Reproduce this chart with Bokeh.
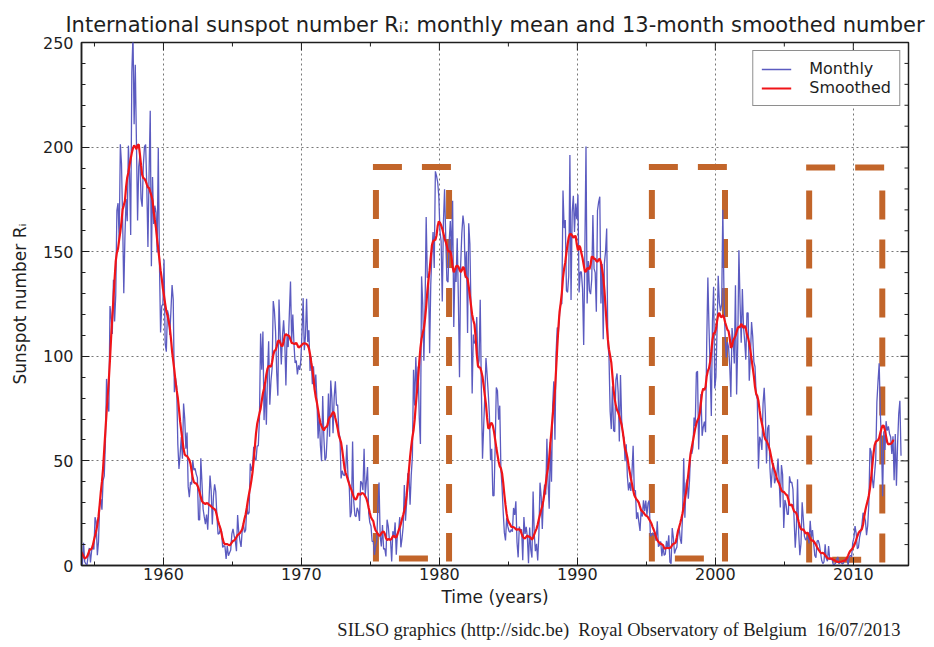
import numpy as np
from bokeh.plotting import figure
from bokeh.models import ColumnDataSource, Range1d, SingleIntervalTicker, Title
from bokeh.embed import file_html
from bokeh.resources import INLINE

# Monthly mean international sunspot number, January of each first year onward
monthly_1953_1959 = [
    26.5, 3.9, 10.0, 27.8, 12.5, 21.8, 8.6, 23.5, 19.3, 8.2, 1.6, 2.5,
    0.2, 0.5, 10.9, 1.8, 0.8, 0.2, 4.8, 8.4, 1.5, 7.0, 9.2, 7.6,
    23.1, 20.8, 4.9, 11.3, 28.9, 31.7, 26.7, 40.7, 42.7, 58.5, 89.2, 76.9,
    73.6, 124.0, 118.4, 110.7, 136.6, 116.6, 129.1, 169.6, 173.2, 155.3, 201.3, 192.1,
    165.0, 130.2, 157.4, 175.2, 164.6, 200.7, 187.2, 158.0, 235.8, 253.8, 210.9, 239.4,
    202.5, 164.9, 190.7, 196.0, 175.3, 171.5, 191.4, 200.2, 201.2, 181.5, 152.3, 187.6,
    217.4, 143.1, 185.7, 163.3, 172.0, 168.7, 149.6, 199.6, 145.2, 111.4, 124.0, 125.0,
]
monthly_1960s = [
    146.3, 106.0, 102.2, 122.0, 119.6, 110.2, 121.7, 134.1, 127.2, 82.8, 89.6, 85.6,
    57.9, 46.1, 53.0, 61.4, 51.0, 77.4, 70.2, 55.8, 63.6, 37.7, 32.6, 39.9,
    38.7, 50.3, 45.6, 46.4, 43.7, 42.0, 21.8, 21.8, 51.3, 39.5, 26.9, 23.2,
    19.8, 24.4, 17.1, 29.3, 43.0, 35.9, 19.6, 33.2, 38.8, 35.3, 23.4, 14.9,
    15.3, 17.7, 16.5, 8.6, 9.5, 9.1, 3.1, 9.3, 4.7, 6.1, 7.4, 15.1,
    17.5, 14.2, 11.7, 6.8, 24.1, 15.9, 11.9, 8.9, 16.8, 20.1, 15.8, 17.0,
    28.2, 24.4, 25.3, 48.7, 45.3, 47.7, 56.7, 51.2, 50.2, 57.2, 57.2, 70.4,
    110.9, 93.6, 111.8, 69.5, 86.5, 67.3, 91.5, 107.2, 76.8, 88.2, 94.3, 126.4,
    121.8, 111.9, 92.2, 81.2, 127.2, 110.3, 96.1, 109.3, 117.2, 107.7, 86.0, 109.8,
    104.4, 120.5, 135.8, 106.8, 120.0, 106.0, 96.8, 98.0, 91.3, 95.7, 93.5, 97.9,
]
monthly_1970s = [
    111.5, 127.8, 102.9, 109.5, 127.5, 106.8, 112.5, 93.0, 99.5, 86.6, 95.2, 83.5,
    91.3, 79.0, 60.7, 71.8, 57.5, 49.8, 81.0, 61.4, 50.2, 51.7, 63.2, 82.2,
    61.5, 88.4, 80.1, 63.2, 80.5, 88.0, 76.5, 76.8, 64.0, 61.3, 41.6, 45.3,
    43.4, 42.9, 46.0, 57.7, 42.4, 39.5, 23.1, 25.6, 59.3, 30.7, 23.9, 23.3,
    27.6, 26.0, 21.3, 40.3, 39.5, 36.0, 55.8, 33.6, 40.2, 47.1, 25.0, 20.5,
    18.9, 11.5, 11.5, 5.1, 9.0, 11.4, 28.2, 39.7, 13.9, 9.1, 19.4, 7.8,
    8.1, 4.3, 21.9, 18.8, 12.4, 12.2, 1.9, 16.4, 13.5, 20.6, 5.2, 15.3,
    16.4, 23.1, 8.7, 12.9, 18.6, 38.5, 21.4, 30.1, 44.0, 43.8, 29.1, 43.2,
    51.9, 93.6, 76.5, 99.7, 82.7, 95.1, 70.4, 58.1, 138.2, 125.1, 97.9, 122.7,
    166.6, 137.5, 138.0, 101.5, 134.4, 149.5, 159.4, 142.2, 188.4, 186.2, 183.3, 176.3,
]
monthly_1980s = [
    159.6, 155.0, 126.2, 164.1, 179.9, 157.3, 136.3, 135.4, 155.0, 164.7, 147.9, 174.4,
    114.0, 141.3, 135.5, 156.4, 127.5, 90.0, 143.8, 158.7, 167.3, 162.4, 137.5, 150.1,
    111.2, 163.6, 153.8, 122.0, 82.2, 110.4, 106.1, 107.6, 118.8, 94.7, 98.1, 127.0,
    84.3, 51.0, 66.5, 80.7, 99.2, 91.1, 82.2, 71.8, 50.3, 55.8, 33.3, 33.4,
    57.0, 85.1, 83.5, 69.7, 76.4, 46.1, 37.4, 25.5, 15.7, 12.0, 22.8, 18.7,
    16.5, 15.9, 17.2, 16.2, 27.5, 24.2, 30.7, 11.1, 3.9, 18.6, 16.2, 17.3,
    2.5, 23.2, 15.1, 18.5, 13.7, 1.1, 18.1, 7.4, 3.8, 35.4, 15.2, 6.8,
    10.4, 2.4, 14.7, 39.6, 33.0, 17.4, 33.0, 38.7, 33.9, 60.6, 39.9, 27.1,
    59.0, 40.0, 76.2, 88.0, 60.1, 101.8, 113.8, 111.6, 120.1, 125.1, 125.1, 179.2,
    161.3, 165.1, 131.4, 130.6, 138.5, 196.2, 126.9, 168.9, 176.7, 159.4, 173.0, 165.5,
]
monthly_1990s = [
    177.3, 130.5, 140.3, 140.3, 132.2, 105.4, 149.4, 200.3, 125.2, 145.5, 131.4, 129.7,
    136.9, 167.5, 141.9, 140.0, 121.3, 169.7, 173.7, 176.3, 125.3, 144.1, 108.2, 144.4,
    150.0, 161.1, 106.7, 99.8, 73.8, 65.2, 85.7, 64.5, 63.9, 88.7, 91.8, 82.6,
    59.3, 91.0, 69.8, 62.2, 61.3, 49.8, 57.9, 42.4, 35.9, 39.8, 35.6, 44.6,
    57.2, 35.8, 35.8, 22.2, 25.4, 20.7, 16.5, 27.0, 23.4, 31.2, 26.0, 31.0,
    24.2, 29.9, 31.1, 14.0, 14.5, 15.6, 14.5, 14.3, 11.8, 21.1, 9.0, 10.0,
    11.5, 4.4, 9.2, 4.8, 5.5, 11.8, 8.2, 14.4, 1.6, 0.9, 17.9, 13.3,
    5.7, 7.6, 8.7, 15.5, 18.5, 12.7, 10.4, 24.4, 51.3, 22.8, 39.0, 41.2,
    31.9, 40.3, 54.8, 53.4, 56.3, 70.7, 66.6, 92.2, 92.9, 55.5, 74.0, 81.9,
    62.0, 66.3, 68.8, 63.7, 106.4, 137.7, 113.5, 93.7, 71.5, 116.7, 133.2, 84.6,
]
monthly_2000s = [
    90.1, 112.9, 138.5, 125.5, 121.6, 124.9, 170.1, 130.5, 109.7, 99.4, 106.8, 104.4,
    95.6, 80.6, 113.5, 107.7, 96.6, 134.0, 81.8, 106.4, 150.7, 125.5, 106.5, 132.2,
    114.1, 107.4, 98.4, 120.7, 120.8, 88.3, 99.6, 116.4, 109.6, 97.5, 95.0, 81.6,
    79.5, 46.2, 61.5, 60.0, 55.2, 77.4, 85.0, 72.7, 48.8, 65.6, 67.2, 46.5,
    37.2, 46.0, 48.9, 39.3, 41.5, 43.2, 51.1, 40.9, 27.7, 48.0, 43.5, 17.9,
    31.3, 29.2, 24.5, 24.4, 42.6, 39.6, 39.9, 36.4, 22.1, 8.5, 18.0, 41.2,
    15.3, 4.9, 10.6, 30.2, 22.3, 13.9, 12.2, 12.9, 14.4, 10.5, 21.4, 13.6,
    16.9, 10.6, 4.8, 3.7, 11.7, 12.0, 10.0, 6.2, 2.4, 0.9, 1.7, 10.1,
    3.3, 2.1, 9.3, 2.9, 2.9, 3.1, 0.5, 0.5, 1.1, 2.9, 4.1, 0.8,
    1.5, 1.4, 0.7, 1.2, 2.9, 2.6, 3.5, 0.0, 4.3, 4.8, 4.1, 10.8,
]
monthly_2010_2013 = [
    13.2, 18.8, 15.4, 8.0, 8.7, 13.6, 16.1, 19.6, 25.2, 23.5, 21.6, 14.5,
    19.0, 29.4, 56.2, 54.4, 41.6, 37.0, 43.9, 50.6, 78.0, 88.0, 96.7, 73.0,
    58.3, 33.1, 64.2, 55.2, 69.0, 64.5, 66.5, 63.0, 61.4, 53.3, 61.8, 40.8,
    62.9, 38.1, 57.9, 72.4, 78.7, 52.5,
]
first_year = 1953

# Highlighted minimum periods (dashed boxes)
box_start = [1975.4, 1995.4, 2006.8]
box_end = [1980.7, 2000.7, 2012.1]
box_top = [190.5, 190.5, 190.3]
box_bottom = [3.3, 3.3, 2.7]

x_lo, x_hi = 1954.06, 2014.0
y_lo, y_hi = 0, 250
x_major_step, x_minor_step = 10, 5
y_major_step, y_minor_step = 50, 10

# ---------------------------------------------------------------------------
monthly = np.array(monthly_1953_1959 + monthly_1960s + monthly_1970s +
                   monthly_1980s + monthly_1990s + monthly_2000s +
                   monthly_2010_2013)
n = len(monthly)
t = first_year + (np.arange(n) + 0.5) / 12.0

# 13-month smoothed number (half weight on the two end months)
weights = np.array([0.5] + [1.0] * 11 + [0.5]) / 12.0
smooth = np.convolve(monthly, weights, mode="valid")
t_smooth = t[6:n - 6]

src_month = ColumnDataSource(dict(t=t, r=monthly))
src_smooth = ColumnDataSource(dict(t=t_smooth, r=smooth))

FONT = "DejaVu Sans"
INK = "#1e1e1e"

p = figure(width=934, height=647, output_backend="svg", toolbar_location=None,
           x_range=Range1d(x_lo, x_hi), y_range=Range1d(y_lo, y_hi),
           min_border_left=81, min_border_right=26,
           min_border_top=42, min_border_bottom=82,
           background_fill_color="white", border_fill_color="white")

p.title.text = "International sunspot number R\u1d62: monthly mean and 13-month smoothed number"
p.title.align = "center"
p.title.text_font = FONT
p.title.text_font_size = "21px"
p.title.text_font_style = "normal"
p.title.text_color = INK
p.title.standoff = 12

p.outline_line_color = INK
p.outline_line_width = 1.5

xt = SingleIntervalTicker(interval=x_major_step,
                          num_minor_ticks=x_major_step // x_minor_step)
yt = SingleIntervalTicker(interval=y_major_step,
                          num_minor_ticks=y_major_step // y_minor_step)

for ax in (p.xaxis[0], p.yaxis[0]):
    ax.axis_line_color = INK
    ax.axis_line_width = 1.5
    ax.major_tick_in = 8
    ax.major_tick_out = 0
    ax.minor_tick_in = 4
    ax.minor_tick_out = 0
    ax.major_tick_line_color = INK
    ax.minor_tick_line_color = INK
    ax.major_label_text_font = FONT
    ax.major_label_text_font_size = "16px"
    ax.major_label_text_color = INK
    ax.axis_label_text_font = FONT
    ax.axis_label_text_font_size = "17px"
    ax.axis_label_text_font_style = "normal"
    ax.axis_label_text_color = INK

p.xaxis.ticker = xt
p.yaxis.ticker = yt
p.xaxis.axis_label = "Time (years)"
p.yaxis.axis_label = "Sunspot number R\u1d62"
p.xaxis.major_label_standoff = 2
p.xaxis.axis_label_standoff = 4
p.yaxis.major_label_standoff = 8
p.yaxis.axis_label_standoff = 10

# mirrored inward ticks on the top and right frame edges
top_major = np.arange(np.ceil(x_lo / x_major_step) * x_major_step, x_hi, x_major_step)
top_minor = np.array([v for v in np.arange(np.ceil(x_lo / x_minor_step) * x_minor_step, x_hi, x_minor_step)
                      if v % x_major_step])
right_major = np.arange(y_lo, y_hi + 1, y_major_step)
right_minor = np.array([v for v in np.arange(y_lo, y_hi, y_minor_step) if v % y_major_step])

tick_style = dict(line_color=INK, line_width=1, length_units="screen")
p.ray(x=top_major, y=[y_hi] * len(top_major), length=8, angle=-np.pi / 2, **tick_style)
p.ray(x=top_minor, y=[y_hi] * len(top_minor), length=4, angle=-np.pi / 2, **tick_style)
p.ray(x=[x_hi] * len(right_major), y=right_major, length=8, angle=np.pi, **tick_style)
p.ray(x=[x_hi] * len(right_minor), y=right_minor, length=4, angle=np.pi, **tick_style)

for g, tk in ((p.xgrid[0], xt), (p.ygrid[0], yt)):
    g.ticker = tk
    g.grid_line_color = "#555555"
    g.grid_line_dash = "2 3"
    g.grid_line_width = 1
    g.grid_line_alpha = 0.8

# dashed boxes around the minima, drawn beneath the data
BROWN = "#C2652A"
box_style = dict(line_color=BROWN, line_width=6, line_cap="square",
                 line_dash="23 26")
p.segment(x0=box_start, y0=box_top, x1=box_end, y1=box_top,
          line_dash_offset=0, **box_style)
p.segment(x0=box_start + box_end, y0=box_top + box_top,
          x1=box_start + box_end, y1=box_bottom + box_bottom,
          line_dash_offset=23, **box_style)
p.segment(x0=box_start, y0=box_bottom, x1=box_end, y1=box_bottom,
          line_dash_offset=23, **box_style)

p.line("t", "r", source=src_month, line_color="#5B5BC0", line_width=1.3,
       legend_label="Monthly")
p.line("t", "r", source=src_smooth, line_color="#F01418", line_width=2.2,
       legend_label="Smoothed")

lg = p.legend[0]
lg.location = "top_right"
lg.margin = 8
lg.padding = 8
lg.spacing = 0
lg.label_height = 16
lg.glyph_height = 16
lg.glyph_width = 30
lg.label_standoff = 18
lg.label_text_font = FONT
lg.label_text_font_size = "16px"
lg.label_text_color = INK
lg.border_line_color = INK
lg.border_line_width = 1.5
lg.background_fill_alpha = 1.0

credit = Title(text="SILSO graphics (http://sidc.be) \u00a0Royal Observatory of Belgium \u00a016/07/2013",
               align="right", text_font="Liberation Serif", text_font_size="18.5px",
               text_font_style="normal", text_color=INK, standoff=16, offset=8)
p.add_layout(credit, "below")

open("out.html", "w").write(file_html(p, INLINE))
